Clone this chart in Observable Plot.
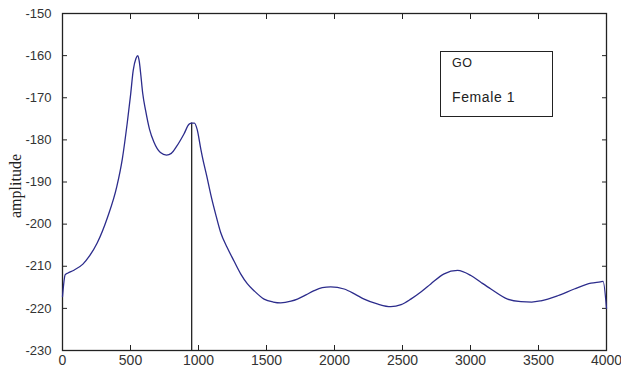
<!DOCTYPE html>
<html><head><meta charset="utf-8">
<script src="https://cdn.jsdelivr.net/npm/d3@7"></script>
<script src="https://cdn.jsdelivr.net/npm/@observablehq/plot@0.6"></script>
<style>
body{margin:0;background:#fff;}
#wrap{position:relative;width:621px;height:376px;overflow:hidden;background:#fff;}
#note{position:absolute;left:440px;top:51px;width:113px;height:66px;border:1.4px solid #222;box-sizing:border-box;font-family:"Liberation Sans",Arial,sans-serif;color:#222;}
#note .l1{position:absolute;left:11px;top:4px;font-size:12.5px;letter-spacing:0.6px;}
#note .l2{position:absolute;left:11px;top:37px;font-size:14px;letter-spacing:0.6px;}
</style>
</head><body>
<div id="wrap"><div id="note"><span class="l1">GO</span><span class="l2">Female 1</span></div></div>
<script>
const freq = [0, 20, 40, 80, 150, 200, 255, 330, 400, 440, 476, 500, 520, 540, 554, 565, 574, 590, 611, 640, 672, 720, 765, 800, 840, 893, 930, 950, 970, 990, 1016, 1028, 1060, 1089, 1125, 1163, 1210, 1260, 1310, 1360, 1408, 1482, 1550, 1604, 1680, 1727, 1790, 1850, 1910, 1972, 2071, 2150, 2218, 2320, 2414, 2490, 2561, 2640, 2708, 2806, 2905, 3003, 3080, 3150, 3273, 3371, 3450, 3518, 3641, 3763, 3886, 3955, 3975, 4000];
const amp = [-217.2, -212, -211.6, -211, -209.5, -207.5, -204.5, -198.5, -191, -184.5, -176, -169.5, -163.5, -160.7, -160, -161.5, -164, -169, -173, -177.5, -180.5, -183, -183.6, -183.2, -181.5, -178.6, -176.3, -176, -176, -177.5, -182, -184, -188.5, -192.8, -197.5, -202, -205.5, -208.7, -211.8, -214.2, -215.8, -217.8, -218.5, -218.7, -218.3, -217.8, -216.8, -215.8, -215.1, -214.9, -215.4, -216.6, -217.8, -219, -219.6, -219.1, -217.8, -216, -214.2, -211.8, -211, -212.2, -213.9, -215.4, -217.8, -218.4, -218.5, -218.2, -217, -215.4, -214, -213.7, -213.6, -220];
const markerFreq = [950];
const markerAmp = [-176];
const xTicks = [0, 500, 1000, 1500, 2000, 2500, 3000, 3500, 4000];
const yTicks = [-150, -160, -170, -180, -190, -200, -210, -220, -230];
const yLabel = "amplitude";

const data = freq.map((f, i) => ({f, a: amp[i]}));
const marker = markerFreq.map((f, i) => ({f, a: markerAmp[i]}));

const chart = Plot.plot({
  width: 621, height: 376,
  marginLeft: 62, marginRight: 15, marginTop: 13, marginBottom: 26,
  style: {fontFamily: "'Liberation Sans', Arial, sans-serif", background: "#fff", color: "#333"},
  x: {domain: [0, 4000]},
  y: {domain: [-230, -150]},
  marks: [
    Plot.axisX({ticks: xTicks, tickSize: 0, tickPadding: 5, fontSize: 14, label: null, tickFormat: d3.format("d"), fill: "#333"}),
    Plot.axisY({ticks: yTicks, tickSize: 0, tickPadding: 11, fontSize: 13, label: null, tickFormat: d => String(d).replace("−", "-"), fill: "#333"}),
    Plot.axisX({anchor: "bottom", ticks: xTicks, tickSize: -5, text: null, label: null, stroke: "#222"}),
    Plot.axisX({anchor: "top", ticks: xTicks, tickSize: -5, text: null, label: null, stroke: "#222"}),
    Plot.axisY({anchor: "left", ticks: yTicks, tickSize: -5, text: null, label: null, stroke: "#222"}),
    Plot.axisY({anchor: "right", ticks: yTicks, tickSize: -5, text: null, label: null, stroke: "#222"}),
    Plot.frame({stroke: "#222", strokeWidth: 1.3}),
    Plot.ruleX(marker, {x: "f", y1: -230, y2: "a", stroke: "#111", strokeWidth: 1.2}),
    Plot.line(data, {x: "f", y: "a", stroke: "#2c2c8c", strokeWidth: 1.3, curve: "monotone-x"}),
    Plot.text([yLabel], {frameAnchor: "left", textAnchor: "middle", dx: -47, dy: 4, rotate: -90, fontFamily: "'Liberation Serif', 'Times New Roman', serif", fontSize: 16, fill: "#222"})
  ]
});
document.getElementById("wrap").prepend(chart);
</script>
</body></html>
